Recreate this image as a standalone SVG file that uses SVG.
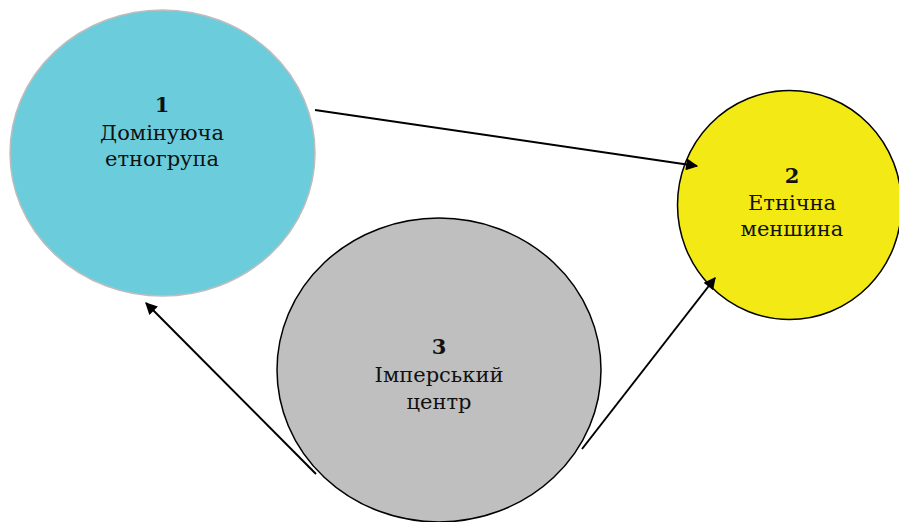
<svg xmlns="http://www.w3.org/2000/svg" width="899" height="522" viewBox="0 0 899 522">
<style>
.lbl{font-family:"DejaVu Serif","Liberation Serif",serif;font-size:21px;fill:#111;text-anchor:middle}
.num{font-weight:bold}
.conn{stroke:#000;stroke-width:2;fill:none;marker-end:url(#ah)}
</style>
<defs>
<marker id="ah" viewBox="0 0 10 10" refX="9" refY="5" markerWidth="8" markerHeight="6" orient="auto" markerUnits="strokeWidth">
<path d="M0,0 L10,5 L0,10 z" fill="#000"/>
</marker>
</defs>
<rect width="899" height="522" fill="#fff"/>
<g id="node1">
<ellipse cx="162.5" cy="153" rx="152.5" ry="143" fill="#6BCDDB" stroke="#BDBDBD" stroke-width="1.5"/>
<text class="lbl num" x="162" y="112">1</text>
<text class="lbl" x="162" y="140">Домінуюча</text>
<text class="lbl" x="162" y="166">етногрупа</text>
</g>
<g id="node2">
<ellipse cx="789.5" cy="205" rx="112" ry="114.5" fill="#F2E915" stroke="#000" stroke-width="1.5"/>
<text class="lbl num" x="792" y="183">2</text>
<text class="lbl" x="792" y="210">Етнічна</text>
<text class="lbl" x="792" y="236">меншина</text>
</g>
<g id="node3">
<ellipse cx="439" cy="370" rx="162" ry="152" fill="#BFBFBF" stroke="#000" stroke-width="1.5"/>
<text class="lbl num" x="439" y="354">3</text>
<text class="lbl" x="439" y="382">Імперський</text>
<text class="lbl" x="439" y="409">центр</text>
</g>
<g id="connectors">
<line class="conn" x1="315" y1="110" x2="697" y2="166"/>
<line class="conn" x1="316" y1="474" x2="146" y2="303"/>
<line class="conn" x1="582" y1="449" x2="715" y2="278"/>
</g>
</svg>
